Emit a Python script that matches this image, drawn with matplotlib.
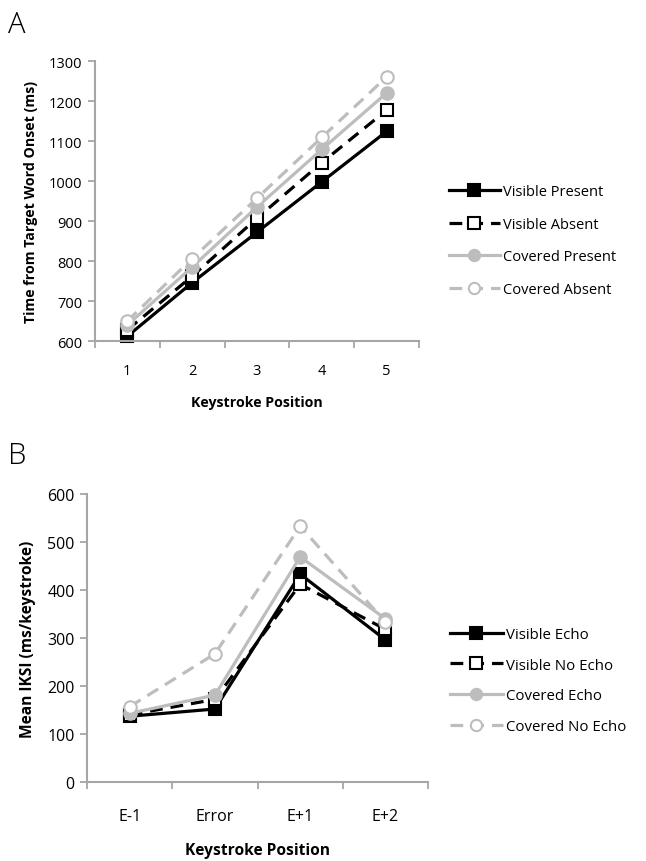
import numpy as np
import matplotlib.pyplot as plt

plt.rcParams['font.family'] = ['Open Sans', 'DejaVu Sans']

# Panel A data
positions_a = ['1', '2', '3', '4', '5']
visible_present = [612, 746, 872, 998, 1124]
visible_absent = [628, 762, 907, 1046, 1177]
covered_present = [640, 785, 935, 1079, 1220]
covered_absent = [650, 806, 957, 1109, 1260]

# Panel B data
positions_b = ['E-1', 'Error', 'E+1', 'E+2']
visible_echo = [137, 152, 433, 296]
visible_no_echo = [140, 172, 412, 318]
covered_echo = [143, 181, 469, 340]
covered_no_echo = [157, 267, 533, 333]

labels_a = ['Visible Present', 'Visible Absent', 'Covered Present', 'Covered Absent']
labels_b = ['Visible Echo', 'Visible No Echo', 'Covered Echo', 'Covered No Echo']

gray = '#bdbdbd'
axis_gray = '#a6a6a6'
styles = [
    dict(color='black', linestyle='-', marker='s', markerfacecolor='black', markeredgecolor='black'),
    dict(color='black', linestyle=(0, (4, 2.5)), marker='s', markerfacecolor='white', markeredgecolor='black'),
    dict(color=gray, linestyle='-', marker='o', markerfacecolor=gray, markeredgecolor=gray),
    dict(color=gray, linestyle=(0, (4, 2.5)), marker='o', markerfacecolor='white', markeredgecolor=gray),
]


def draw_panel(ax, cats, series, labels, ylim, yticks, ylabel, legend_anchor,
               fs, legfs, xpad, xlabpad, spacing):
    x = np.arange(1, len(cats) + 1)
    handles = []
    for vals, lab, st in zip(series, labels, styles):
        h, = ax.plot(x, vals, linewidth=2.3, markersize=9, markeredgewidth=1.5, label=lab, **st)
        h.set_clip_on(False)
        handles.append(h)
    ax.set_xlim(0.5, len(cats) + 0.5)
    ax.set_ylim(*ylim)
    ax.set_yticks(yticks)
    # category boundaries get the tick marks, labels sit at the centres
    ax.set_xticks(np.arange(0.5, len(cats) + 1, 1.0))
    ax.set_xticklabels([])
    ax.set_xticks(x, minor=True)
    ax.set_xticklabels(cats, minor=True)
    ax.tick_params(axis='x', which='minor', length=0, pad=xpad, labelsize=fs)
    ax.tick_params(axis='x', which='major', length=5, width=1.3, color=axis_gray, direction='out')
    ax.tick_params(axis='y', length=5, width=1.3, color=axis_gray, direction='out', labelsize=fs, pad=4)
    for s in ['top', 'right']:
        ax.spines[s].set_visible(False)
    for s in ['left', 'bottom']:
        ax.spines[s].set_color(axis_gray)
        ax.spines[s].set_linewidth(1.5)
    ax.set_ylabel(ylabel, fontsize=fs - 0.3, fontweight='bold', labelpad=8)
    ax.set_xlabel('Keystroke Position', fontsize=fs - 0.3, fontweight='bold', labelpad=xlabpad)
    ax.legend(handles=handles, loc='center left', bbox_to_anchor=legend_anchor,
              bbox_transform=ax.figure.transFigure, frameon=False, fontsize=legfs,
              handlelength=3.5, handletextpad=0.25, labelspacing=spacing, markerscale=0.9)


fig = plt.figure(figsize=(6.46, 8.62), dpi=100)

ax_a = fig.add_axes([0.147, 0.6032, 0.5015, 0.3248])
draw_panel(ax_a, positions_a,
           [visible_present, visible_absent, covered_present, covered_absent],
           labels_a, (600, 1300), np.arange(600, 1301, 100),
           'Time from Target Word Onset (ms)', (0.674, 0.7198),
           fs=10.5, legfs=10.5, xpad=16, xlabpad=12, spacing=1.2)

ax_b = fig.add_axes([0.1347, 0.0917, 0.528, 0.334])
draw_panel(ax_b, positions_b,
           [visible_echo, visible_no_echo, covered_echo, covered_no_echo],
           labels_b, (0, 600), np.arange(0, 601, 100),
           'Mean IKSI (ms/keystroke)', (0.676, 0.2094),
           fs=11.5, legfs=10.8, xpad=19, xlabpad=13, spacing=1.05)

fig.text(0.012, 0.962, 'A', fontsize=21, fontweight='light')
fig.text(0.012, 0.462, 'B', fontsize=21, fontweight='light')

fig.savefig('out.png', dpi=100)
